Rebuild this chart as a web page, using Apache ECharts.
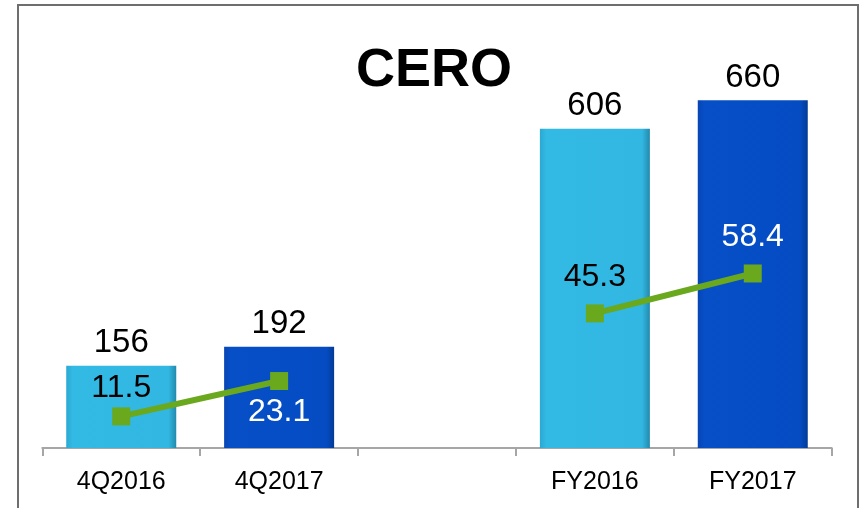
<!DOCTYPE html>
<html>
<head>
<meta charset="utf-8">
<script src="https://cdn.jsdelivr.net/npm/echarts@6/dist/echarts.min.js"></script>
<style>
html,body{margin:0;padding:0;background:#fff;}
#c{width:863px;height:508px;}
</style>
</head>
<body>
<div id="c"></div>
<script>
var categories = ['4Q2016', '4Q2017', '', 'FY2016', 'FY2017'];
var cerValues = [156, 192, null, 606, 660];
var marginValues = [11.5, 23.1, null, 45.3, 58.4];
var titleText = 'CERO';

var FONT = "'Liberation Sans', Arial, sans-serif";
var lightBar = new echarts.graphic.LinearGradient(0, 0, 1, 0, [
  {offset: 0, color: '#2aa9d2'}, {offset: 0.06, color: '#33bae4'},
  {offset: 0.93, color: '#31b7e1'}, {offset: 1, color: '#2389ad'}]);
var darkBar = new echarts.graphic.LinearGradient(0, 0, 1, 0, [
  {offset: 0, color: '#0845b4'}, {offset: 0.06, color: '#064fc7'},
  {offset: 0.93, color: '#054cc3'}, {offset: 1, color: '#043a96'}]);
var barColors = [lightBar, darkBar, null, lightBar, darkBar];
var lineLabelColors = ['#000', '#fff', '#000', '#000', '#fff'];
var lineLabelPos = ['top', 'bottom', 'top', 'top', 'top'];
var lineLabelDist = [3, 6, 10, 11, 11];

var barData = cerValues.map(function (v, i) {
  return {value: v, itemStyle: {color: barColors[i] || '#fff'}};
});
var lineData = marginValues.map(function (v, i) {
  return {value: v, label: {color: lineLabelColors[i], position: lineLabelPos[i], distance: lineLabelDist[i]}};
});

var chart = echarts.init(document.getElementById('c'), null, {renderer: 'canvas'});
chart.setOption({
  animation: false,
  backgroundColor: '#fff',
  grid: {left: 42.3, right: 31.3, top: 48, bottom: 60},
  graphic: [
    {type: 'rect', shape: {x: 18, y: 5, width: 840, height: 540},
     style: {fill: 'none', stroke: '#6e6e6e', lineWidth: 2}, z: -1, silent: true},
    {type: 'text', x: 434, y: 71,
     style: {text: titleText, fill: '#000', font: 'bold 54px ' + FONT,
             textAlign: 'center', textVerticalAlign: 'middle'}}
  ],
  xAxis: {
    type: 'category', data: categories, boundaryGap: true,
    axisLine: {lineStyle: {color: '#a6a6a6', width: 2}},
    axisTick: {show: true, length: 8, lineStyle: {color: '#a6a6a6', width: 2}},
    axisLabel: {color: '#000', fontSize: 25, fontFamily: FONT, margin: 22}
  },
  yAxis: [
    {type: 'value', min: 0, max: 759, show: false, splitLine: {show: false}},
    {type: 'value', min: 1.12, max: 132.4, show: false, splitLine: {show: false}}
  ],
  series: [
    {type: 'bar', data: barData, barWidth: 110, yAxisIndex: 0,
     label: {show: true, position: 'top', distance: 6, color: '#000', fontSize: 33, fontFamily: FONT}},
    {type: 'line', data: lineData, yAxisIndex: 1, connectNulls: false,
     symbol: 'rect', symbolSize: 18,
     lineStyle: {color: '#6aa81e', width: 6},
     itemStyle: {color: '#6aa81e'},
     label: {show: true, fontSize: 32, fontFamily: FONT}}
  ]
});
</script>
</body>
</html>
